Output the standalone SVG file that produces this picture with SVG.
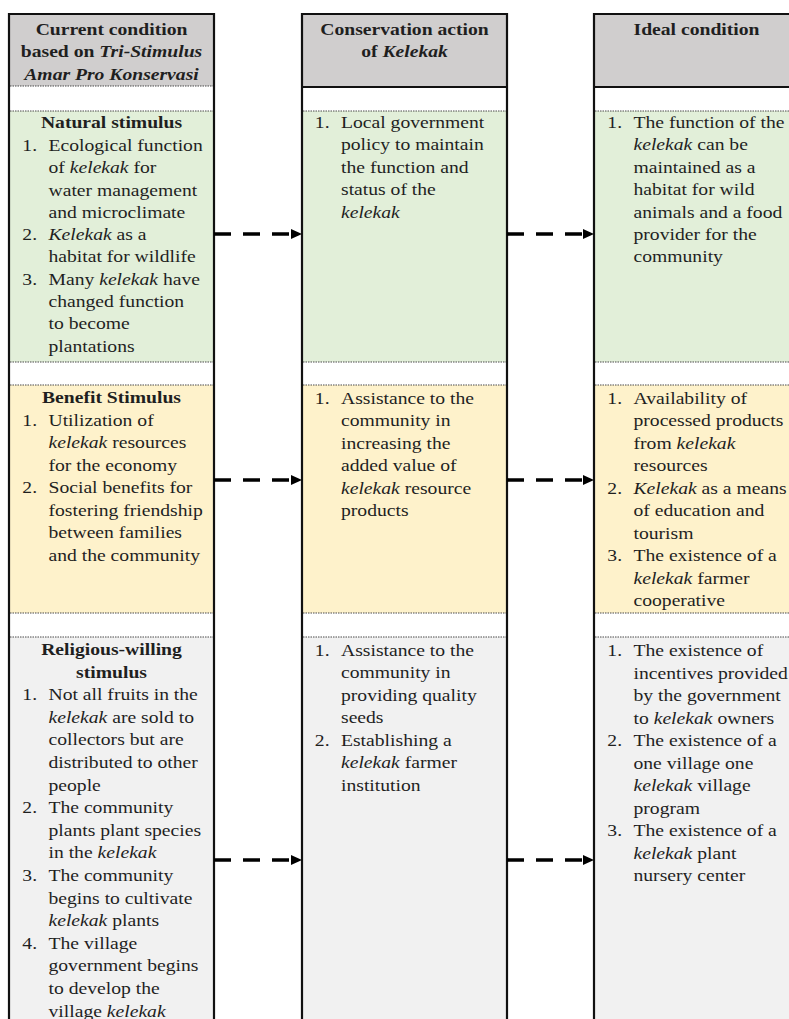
<svg xmlns="http://www.w3.org/2000/svg" width="789" height="1019" viewBox="0 0 789 1019">
<style>
text{font-family:"Liberation Serif","Times New Roman",serif;font-size:16.5px;fill:#1f1f1f}
.b{font-weight:bold}
.i{font-style:italic}
.c{text-anchor:middle}
.hdr{fill:#d0cece}
.grn{fill:#e2efd9}
.org{fill:#fef2cb}
.gry{fill:#f1f1f1}
.wht{fill:#ffffff}
.dot{stroke:#4a4a4a;stroke-width:1;stroke-dasharray:1.5 1;fill:none}
.sol{stroke:#111;stroke-width:2;fill:none}
.frame{stroke:#111;stroke-width:2.2;fill:none}
.conn{stroke:#000;stroke-width:3.6;stroke-dasharray:17 12;fill:none}
</style>
<defs>
<marker id="ah" markerUnits="userSpaceOnUse" markerWidth="11" markerHeight="11" refX="0" refY="5.5" orient="auto" overflow="visible">
<path d="M0,0.5 L11,5.5 L0,10.5 z" fill="#000"/>
</marker>
</defs>
<rect width="789" height="1019" fill="#fff"/>

<!-- LEFT COLUMN -->
<g id="current-header">
<rect class="hdr" x="9" y="14" width="205" height="72"/>
<text class="b c" transform="matrix(1.19 0 0 1 111.5 0)"><tspan x="0" y="35">Current condition</tspan><tspan x="0" y="57.5">based on <tspan class="i">Tri-Stimulus</tspan></tspan><tspan x="0" y="80" class="i">Amar Pro Konservasi</tspan></text>
</g>
<g id="current-natural">
<rect class="grn" x="9" y="111" width="205" height="251"/>
<text class="b c" transform="matrix(1.19 0 0 1 111.5 0)"><tspan x="0" y="128">Natural stimulus</tspan></text>
<text transform="matrix(1.19 0 0 1 48.5 0)"><tspan x="-22" y="151">1.</tspan><tspan x="0" y="151">Ecological function</tspan><tspan x="0" y="173.3">of <tspan class="i">kelekak</tspan> for</tspan><tspan x="0" y="195.6">water management</tspan><tspan x="0" y="217.9">and microclimate</tspan><tspan x="-22" y="240.2">2.</tspan><tspan x="0" y="240.2"><tspan class="i">Kelekak</tspan> as a</tspan><tspan x="0" y="262.5">habitat for wildlife</tspan><tspan x="-22" y="284.8">3.</tspan><tspan x="0" y="284.8">Many <tspan class="i">kelekak</tspan> have</tspan><tspan x="0" y="307.1">changed function</tspan><tspan x="0" y="329.4">to become</tspan><tspan x="0" y="351.7">plantations</tspan></text>
</g>
<g id="current-benefit">
<rect class="org" x="9" y="385" width="205" height="228"/>
<text class="b c" transform="matrix(1.19 0 0 1 111.5 0)"><tspan x="0" y="403.5">Benefit Stimulus</tspan></text>
<text transform="matrix(1.19 0 0 1 48.5 0)"><tspan x="-22" y="426">1.</tspan><tspan x="0" y="426">Utilization of</tspan><tspan x="0" y="448.5"><tspan class="i">kelekak</tspan> resources</tspan><tspan x="0" y="471">for the economy</tspan><tspan x="-22" y="493.5">2.</tspan><tspan x="0" y="493.5">Social benefits for</tspan><tspan x="0" y="516">fostering friendship</tspan><tspan x="0" y="538.5">between families</tspan><tspan x="0" y="561">and the community</tspan></text>
</g>
<g id="current-religious">
<rect class="gry" x="9" y="637" width="205" height="400"/>
<text class="b c" transform="matrix(1.19 0 0 1 111.5 0)"><tspan x="0" y="655">Religious-willing</tspan><tspan x="0" y="677.6">stimulus</tspan></text>
<text transform="matrix(1.19 0 0 1 48.5 0)"><tspan x="-22" y="700.2">1.</tspan><tspan x="0" y="700.2">Not all fruits in the</tspan><tspan x="0" y="722.8"><tspan class="i">kelekak</tspan> are sold to</tspan><tspan x="0" y="745.4">collectors but are</tspan><tspan x="0" y="768">distributed to other</tspan><tspan x="0" y="790.6">people</tspan><tspan x="-22" y="813.2">2.</tspan><tspan x="0" y="813.2">The community</tspan><tspan x="0" y="835.8">plants plant species</tspan><tspan x="0" y="858.4">in the <tspan class="i">kelekak</tspan></tspan><tspan x="-22" y="881">3.</tspan><tspan x="0" y="881">The community</tspan><tspan x="0" y="903.6">begins to cultivate</tspan><tspan x="0" y="926.2"><tspan class="i">kelekak</tspan> plants</tspan><tspan x="-22" y="948.8">4.</tspan><tspan x="0" y="948.8">The village</tspan><tspan x="0" y="971.4">government begins</tspan><tspan x="0" y="994">to develop the</tspan><tspan x="0" y="1016.6">village <tspan class="i">kelekak</tspan></tspan></text>
</g>
<g id="current-lines">
<path class="dot" d="M10 86H213M10 111H213M10 362H213M10 385H213M10 613H213M10 637H213"/>
<path class="frame" d="M9 1030V14H214V1030"/>
</g>

<!-- MIDDLE COLUMN -->
<g id="action-header">
<rect class="hdr" x="302" y="14" width="205" height="73"/>
<text class="b c" transform="matrix(1.19 0 0 1 404.5 0)"><tspan x="0" y="35">Conservation action</tspan><tspan x="0" y="57.5">of <tspan class="i">Kelekak</tspan></tspan></text>
</g>
<g id="action-natural">
<rect class="grn" x="302" y="111" width="205" height="251"/>
<text transform="matrix(1.19 0 0 1 341 0)"><tspan x="-22" y="128">1.</tspan><tspan x="0" y="128">Local government</tspan><tspan x="0" y="150.4">policy to maintain</tspan><tspan x="0" y="172.8">the function and</tspan><tspan x="0" y="195.2">status of the</tspan><tspan x="0" y="217.6" class="i">kelekak</tspan></text>
</g>
<g id="action-benefit">
<rect class="org" x="302" y="385" width="205" height="228"/>
<text transform="matrix(1.19 0 0 1 341 0)"><tspan x="-22" y="404">1.</tspan><tspan x="0" y="404">Assistance to the</tspan><tspan x="0" y="426.4">community in</tspan><tspan x="0" y="448.8">increasing the</tspan><tspan x="0" y="471.2">added value of</tspan><tspan x="0" y="493.6"><tspan class="i">kelekak</tspan> resource</tspan><tspan x="0" y="516">products</tspan></text>
</g>
<g id="action-religious">
<rect class="gry" x="302" y="637" width="205" height="400"/>
<text transform="matrix(1.19 0 0 1 341 0)"><tspan x="-22" y="656">1.</tspan><tspan x="0" y="656">Assistance to the</tspan><tspan x="0" y="678.5">community in</tspan><tspan x="0" y="701">providing quality</tspan><tspan x="0" y="723.5">seeds</tspan><tspan x="-22" y="746">2.</tspan><tspan x="0" y="746">Establishing a</tspan><tspan x="0" y="768.5"><tspan class="i">kelekak</tspan> farmer</tspan><tspan x="0" y="791">institution</tspan></text>
</g>
<g id="action-lines">
<path class="sol" d="M303 87H506"/>
<path class="dot" d="M303 111H506M303 362H506M303 385H506M303 613H506M303 637H506"/>
<path class="frame" d="M302 1030V14H507V1030"/>
</g>

<!-- RIGHT COLUMN -->
<g id="ideal-header">
<rect class="hdr" x="594" y="14" width="205" height="73"/>
<text class="b c" transform="matrix(1.19 0 0 1 696.5 0)"><tspan x="0" y="35">Ideal condition</tspan></text>
</g>
<g id="ideal-natural">
<rect class="grn" x="594" y="111" width="205" height="251"/>
<text transform="matrix(1.19 0 0 1 633.5 0)"><tspan x="-22" y="128">1.</tspan><tspan x="0" y="128">The function of the</tspan><tspan x="0" y="150.4"><tspan class="i">kelekak</tspan> can be</tspan><tspan x="0" y="172.8">maintained as a</tspan><tspan x="0" y="195.2">habitat for wild</tspan><tspan x="0" y="217.6">animals and a food</tspan><tspan x="0" y="240">provider for the</tspan><tspan x="0" y="262.4">community</tspan></text>
</g>
<g id="ideal-benefit">
<rect class="org" x="594" y="385" width="205" height="228"/>
<text transform="matrix(1.19 0 0 1 633.5 0)"><tspan x="-22" y="404">1.</tspan><tspan x="0" y="404">Availability of</tspan><tspan x="0" y="426.5">processed products</tspan><tspan x="0" y="449">from <tspan class="i">kelekak</tspan></tspan><tspan x="0" y="471.5">resources</tspan><tspan x="-22" y="494">2.</tspan><tspan x="0" y="494"><tspan class="i">Kelekak</tspan> as a means</tspan><tspan x="0" y="516.5">of education and</tspan><tspan x="0" y="539">tourism</tspan><tspan x="-22" y="561.5">3.</tspan><tspan x="0" y="561.5">The existence of a</tspan><tspan x="0" y="584"><tspan class="i">kelekak</tspan> farmer</tspan><tspan x="0" y="606.5">cooperative</tspan></text>
</g>
<g id="ideal-religious">
<rect class="gry" x="594" y="637" width="205" height="400"/>
<text transform="matrix(1.19 0 0 1 633.5 0)"><tspan x="-22" y="656.5">1.</tspan><tspan x="0" y="656.5">The existence of</tspan><tspan x="0" y="679">incentives provided</tspan><tspan x="0" y="701.5">by the government</tspan><tspan x="0" y="724">to <tspan class="i">kelekak</tspan> owners</tspan><tspan x="-22" y="746.5">2.</tspan><tspan x="0" y="746.5">The existence of a</tspan><tspan x="0" y="769">one village one</tspan><tspan x="0" y="791.5"><tspan class="i">kelekak</tspan> village</tspan><tspan x="0" y="814">program</tspan><tspan x="-22" y="836.5">3.</tspan><tspan x="0" y="836.5">The existence of a</tspan><tspan x="0" y="859"><tspan class="i">kelekak</tspan> plant</tspan><tspan x="0" y="881.5">nursery center</tspan></text>
</g>
<g id="ideal-lines">
<path class="sol" d="M595 87H798"/>
<path class="dot" d="M595 111H798M595 362H798M595 385H798M595 613H798M595 637H798"/>
<path class="frame" d="M594 1030V14H799V1030"/>
</g>

<!-- CONNECTORS -->
<g id="connectors">
<path class="conn" d="M214 234H291" marker-end="url(#ah)"/>
<path class="conn" d="M507 234H583" marker-end="url(#ah)"/>
<path class="conn" d="M214 480H291" marker-end="url(#ah)"/>
<path class="conn" d="M507 480H583" marker-end="url(#ah)"/>
<path class="conn" d="M214 860H291" marker-end="url(#ah)"/>
<path class="conn" d="M507 860H583" marker-end="url(#ah)"/>
</g>
</svg>
